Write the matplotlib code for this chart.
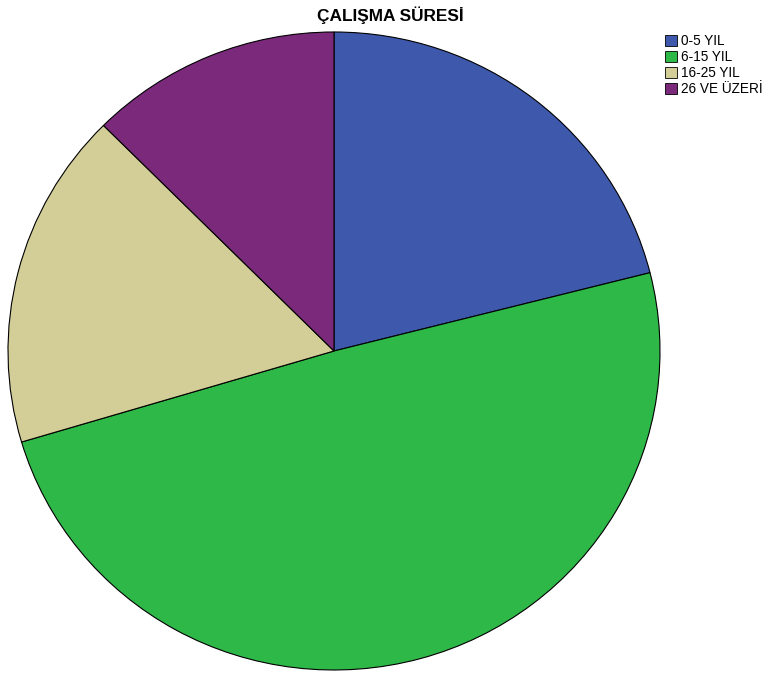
import matplotlib
matplotlib.use('Agg')
import matplotlib.pyplot as plt

plt.rcParams['font.family'] = ['Liberation Sans', 'DejaVu Sans']

labels = ['0-5 YIL', '6-15 YIL', '16-25 YIL', '26 VE ÜZERİ']
counts = [32, 75, 26, 19]
colors = ['#3e58ac', '#2eb848', '#d3ce97', '#7b2a7b']

W, H = 769, 676
fig = plt.figure(figsize=(W / 100, H / 100), dpi=100)

# pie area is a bit wider than tall
cx, cy, rx, ry = 334, 351, 326, 319
ax = fig.add_axes([(cx - rx) / W, (H - cy - ry) / H, 2 * rx / W, 2 * ry / H])
ax.pie(counts, colors=colors, startangle=90, counterclock=False,
       wedgeprops=dict(edgecolor='black', linewidth=0.8))
ax.set_xlim(-1.0, 1.0)
ax.set_ylim(-1.0, 1.0)
ax.set_aspect('auto')

fig.text(390 / W, 1 - 15 / H, 'ÇALIŞMA SÜRESİ', ha='center', va='center',
         fontsize=12.4, fontweight='bold')

handles = [plt.Rectangle((0, 0), 1, 1, facecolor=c, edgecolor='black', linewidth=0.6)
           for c in colors]
fig.legend(handles, labels, loc='upper left', bbox_to_anchor=(665 / W, 1 - 34 / H),
           frameon=False, fontsize=9.8, handlelength=0.9, handleheight=0.9,
           handletextpad=0.3, labelspacing=0.15, borderaxespad=0, borderpad=0)

fig.savefig('out.png', dpi=100)
